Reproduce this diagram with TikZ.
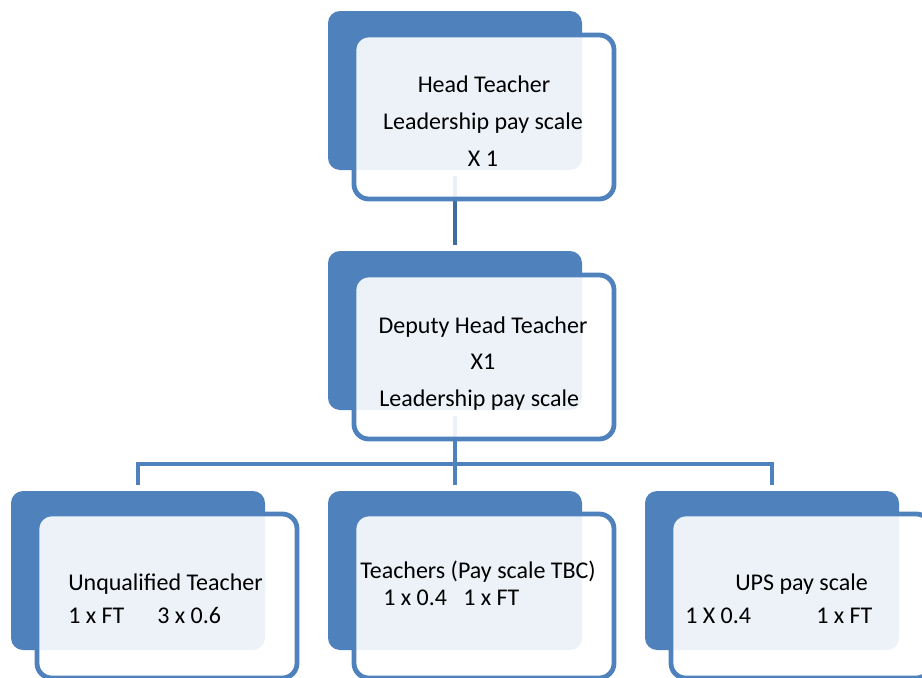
\documentclass[tikz,border=0pt]{standalone}
\usepackage{fontspec}
\setmainfont{Carlito}
\definecolor{boxblue}{HTML}{4F81BD}
\definecolor{darkblue}{HTML}{3F6B9F}
\begin{document}
\begin{tikzpicture}[x=0.75pt,y=-0.75pt,
  backbox/.style={fill=boxblue,draw=none,rounded corners=9pt,minimum width=190.5pt,minimum height=119.25pt,anchor=north west,inner sep=0pt,outer sep=0pt},
  frontbox/.style={draw=boxblue,line width=3.6pt,fill=white,fill opacity=0.9,rounded corners=11pt,minimum width=195pt,minimum height=123pt,anchor=north west,inner sep=0pt,outer sep=0pt},
  conn/.style={draw=boxblue,line width=3.6pt,line join=miter},
  txt/.style={inner sep=0pt,font=\fontsize{18pt}{22pt}\selectfont,text=black}]
\useasboundingbox (0,0) rectangle (922,678);
% back boxes
\node[backbox] (b1) at (328,11) {};
\node[backbox] (b2) at (328,251) {};
\node[backbox] (b3) at (11,491) {};
\node[backbox] (b4) at (328,491) {};
\node[backbox] (b5) at (645,491) {};
% connectors
\draw[conn,draw=darkblue] ([yshift=-4.5pt]b1.south) -- ([yshift=4.5pt]b2.north);
\coordinate (j) at (455,464);
\draw[conn] ([yshift=-4.5pt]b2.south) -- (j);
\draw[conn] ([yshift=4.5pt]b3.north) |- (j) -| ([yshift=4.5pt]b5.north);
\draw[conn] (j) -- ([yshift=4.5pt]b4.north);
% front boxes
\node[frontbox] (f1) at (354,35) {};
\node[frontbox] (f2) at (354,275) {};
\node[frontbox] (f3) at (37,514) {};
\node[frontbox] (f4) at (354,514) {};
\node[frontbox] (f5) at (671,514) {};
% texts
\node[txt,anchor=base] (t1a) at (484,92) {Head Teacher};
\node[txt,anchor=base] (t1b) at (483,129) {Leadership pay scale};
\node[txt,anchor=base] (t1c) at (483,166) {X 1};
\node[txt,anchor=base] (t2a) at (483,333) {Deputy Head Teacher};
\node[txt,anchor=base] (t2b) at (483,369) {X1};
\node[txt,anchor=base west] (t2c) at (379,406) {Leadership pay scale};
\node[txt,anchor=base west] (t3a) at (68,590) {Unqualified Teacher};
\node[txt,anchor=base west] (t3b) at (68,623) {1 x FT};
\node[txt,anchor=base west] (t3c) at (157,623) {3 x 0.6};
\node[txt,anchor=base west] (t4a) at (360,578) {Teachers (Pay scale TBC)};
\node[txt,anchor=base west] (t4b) at (383,605) {1 x 0.4};
\node[txt,anchor=base west] (t4c) at (463,605) {1 x FT};
\node[txt,anchor=base west] (t5a) at (735,590) {UPS pay scale};
\node[txt,anchor=base west] (t5b) at (685,623) {1 X 0.4};
\node[txt,anchor=base west] (t5c) at (816,623) {1 x FT};
\end{tikzpicture}
\end{document}
